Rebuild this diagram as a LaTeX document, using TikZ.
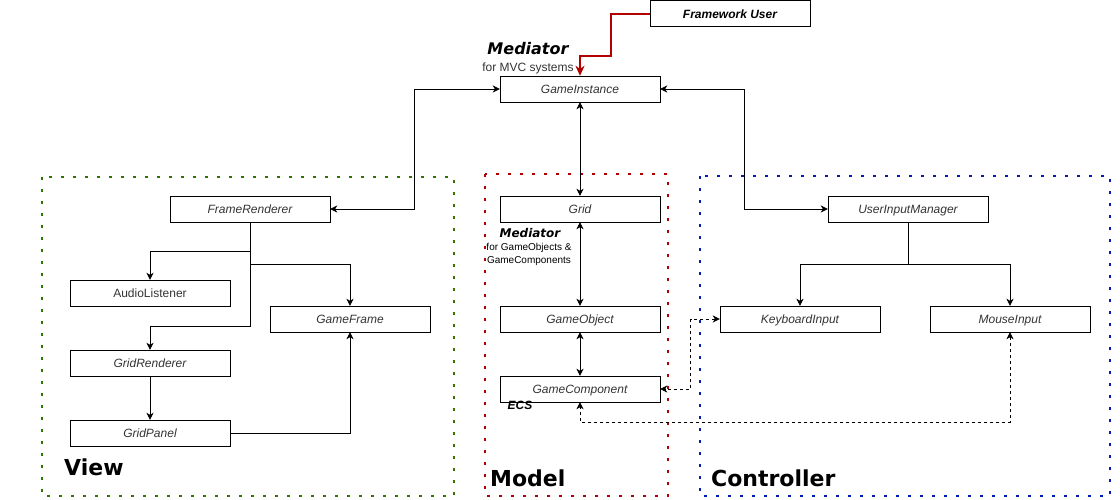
\documentclass[tikz,border=0pt]{standalone}
\usepackage{fontspec}
\setmainfont{Liberation Sans}
\newfontfamily\titlefont{DejaVu Sans}
\usetikzlibrary{arrows.meta}

\definecolor{viewgreen}{HTML}{2D7600}
\definecolor{modelred}{HTML}{B20000}
\definecolor{ctrlblue}{HTML}{001DBC}
\definecolor{boxtext}{HTML}{333333}

\begin{document}
\begin{tikzpicture}
  [x=1pt, y=-1pt,
   every node/.style={inner sep=0pt},
   classbox/.style={rectangle, draw, minimum width=160pt, minimum height=26pt,
     text height=9pt, text depth=0pt,
     text=boxtext, font=\fontsize{12}{14}\selectfont\itshape},
   plainbox/.style={classbox, font=\fontsize{12}{14}\selectfont},
   frame/.style={line width=2.6pt, dash pattern=on 2.6pt off 9.4pt},
   groupname/.style={anchor=base west, font=\titlefont\bfseries\fontsize{22}{26}\selectfont},
   notetitle/.style={anchor=base, font=\titlefont\bfseries\itshape},
   link/.style={-{Stealth[length=7pt,width=7pt,inset=2pt]}, line width=0.8pt},
   both/.style={{Stealth[length=7pt,width=7pt,inset=2pt]}-{Stealth[length=7pt,width=7pt,inset=2pt]}, line width=0.8pt},
   weak/.style={both, dash pattern=on 3pt off 3pt}]
  \useasboundingbox (0,0) rectangle (1120,499);

  % MVC groups
  \draw[frame, viewgreen] (42,177) rectangle (454,496);
  \draw[frame, modelred] (485,174) rectangle (668,496);
  \draw[frame, ctrlblue] (700,176) rectangle (1110,496);
  \node[groupname] (viewlbl) at (64,475) {View};
  \node[groupname] (modellbl) at (490,486) {Model};
  \node[groupname] (ctrllbl) at (711,486) {Controller};

  % nodes
  \node[classbox, font=\fontsize{12}{14}\selectfont\bfseries\itshape, text=black] (fu) at (730,13.5) {Framework User};
  \node[classbox] (gi) at (580,89) {GameInstance};
  \node[classbox] (grid) at (580,209) {Grid};
  \node[classbox] (gobj) at (580,319) {GameObject};
  \node[classbox] (gcomp) at (580,389) {GameComponent};
  \node[classbox] (fr) at (250,209) {FrameRenderer};
  \node[plainbox] (al) at (150,293) {AudioListener};
  \node[classbox] (gf) at (350,319) {GameFrame};
  \node[classbox] (gr) at (150,363) {GridRenderer};
  \node[classbox] (gp) at (150,433) {GridPanel};
  \node[classbox] (uim) at (908,209) {UserInputManager};
  \node[classbox] (ki) at (800,319) {KeyboardInput};
  \node[classbox] (mi) at (1010,319) {MouseInput};

  % notes
  \node[notetitle, font=\titlefont\bfseries\itshape\fontsize{16}{18}\selectfont] (med1) at (528,54) {Mediator};
  \node[anchor=base, font=\fontsize{12}{14}\selectfont, text=boxtext] (med1sub) at (528,71) {for MVC systems};
  \node[notetitle, font=\titlefont\bfseries\itshape\fontsize{12}{14}\selectfont] (med2) at (530,237) {Mediator};
  \node[anchor=base, font=\fontsize{10}{12}\selectfont] (med2sub) at (529,250) {for GameObjects \&};
  \node[anchor=base, font=\fontsize{10}{12}\selectfont] (med2sub2) at (529,263) {GameComponents};
  \node[anchor=base, font=\fontsize{12}{14}\selectfont\bfseries\itshape] (ecs) at (520,409) {ECS};

  % connectors
  \draw[-{Stealth[length=10pt,width=9pt,inset=3pt]}, line width=2pt, modelred] (fu.west) -| ++(-39,42) -| (gi.north);
  \draw[both] (gi.west) -- ++(-85,0) |- (fr.east);
  \draw[both] (gi.east) -- ++(84,0) |- (uim.west);
  \draw[both] (gi) -- (grid);
  \draw[both] (grid) -- (gobj);
  \draw[both] (gobj) -- (gcomp);

  \draw[link] (fr.south) -- ++(0,29) -| (al.north);
  \draw[link] (fr.south) -- ++(0,42) -| (gf.north);
  \draw[link] (fr.south) -- ++(0,104) -| (gr.north);
  \draw[link] (gr) -- (gp);
  \draw[link] (gp.east) -| (gf.south);

  \draw[link] (uim.south) -- ++(0,42) -| (ki.north);
  \draw[link] (uim.south) -- ++(0,42) -| (mi.north);

  \draw[weak] (ki.west) -- ++(-29,0) |- (gcomp.east);
  \draw[weak] (mi.south) -- ++(0,90) -| (gcomp.south);
\end{tikzpicture}
\end{document}
